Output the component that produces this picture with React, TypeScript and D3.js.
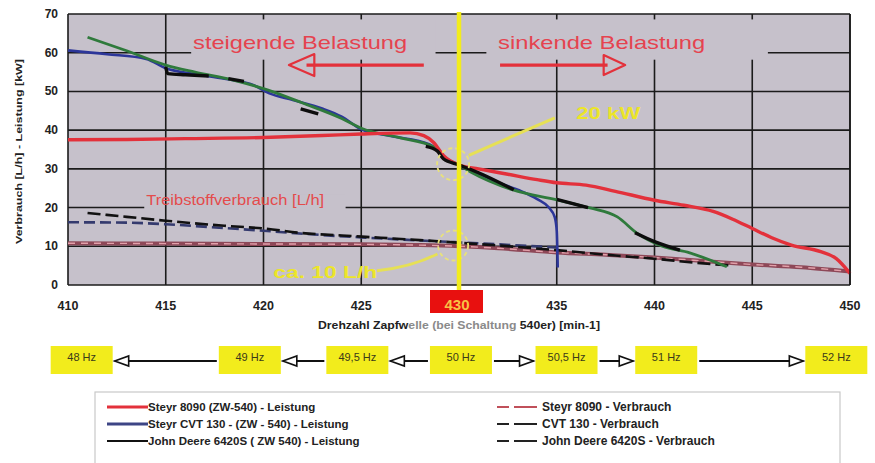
import React from "react";
import * as d3 from "d3";

type Pt = [number, number] | null;

const rpmTicks = [410, 415, 420, 425, 430, 435, 440, 445, 450];
const valueTicks = [0, 10, 20, 30, 40, 50, 60, 70];

// Leistung [kW]
const steyr8090Leistung: Pt[] = [
  [410, 37.5], [413, 37.6], [416, 37.8], [420, 38.1], [423, 38.6], [425, 39], [427.5, 39.3],
  [428.2, 38.6], [428.7, 36.8], [429.2, 33.5], [430, 31], [431, 30], [432.5, 28.6], [434, 27.2],
  [435, 26.4], [436.5, 25.8], [438, 24.2], [440, 21.9], [441.5, 20.6], [443, 19], [444, 17],
  [445, 14.6], [446, 12.2], [447, 10.3], [448.5, 8.6], [449.3, 6.8], [450, 3],
];
const cvt130Leistung: Pt[] = [
  [410, 60.6], [412, 59.6], [414, 58.4], [415, 56], [416.5, 54.5], [418, 53.3], [419.5, 51.6],
  [420.3, 49.5], [421.5, 47.8], [423, 45.6], [424, 43.5], [425, 40.2], [426.5, 38.5], [428.5, 36.3],
  [429.4, 32.5], [430, 31], [431, 28.8], [432, 26.5], [433, 24.6], [434, 22.2], [434.6, 20],
  [434.9, 17.5], [435, 14], [435.05, 4.5],
];
const jd6420Leistung: Pt[] = [
  [411, 64], [413, 60.5], [415, 56.8], [416.5, 55], [418.4, 53], [420.2, 50.4], [422, 47],
  [424, 43], [425, 40.5], [427, 38], [428.7, 35.7], [429.2, 33], [430, 31], [430.6, 29.2],
  [432.8, 24.5], [435, 22], [436.7, 19.9], [438.1, 17.6], [439.1, 13.4], [440.4, 10],
  [441.8, 8.3], [443.7, 4.7],
];
// black measured segments drawn over the John Deere curve
const jd6420Messung: Pt[] = [
  [415, 56.3], [415.1, 54.6], [416, 54.3], [417.2, 54], null,
  [418.2, 53.3], [419, 52.6], null,
  [421.9, 45.5], [422.8, 44.2], null,
  [428.3, 35.8], [428.9, 34.6], [429.2, 32.6], [430, 31], [431, 29], [432.8, 24.6], null,
  [435, 22.1], [436.6, 20], null,
  [439, 13.5], [440, 11.2], [441.3, 9],
];

// Verbrauch [L/h]
const steyr8090Verbrauch: Pt[] = [
  [410, 10.8], [415, 10.7], [420, 10.6], [425, 10.5], [428, 10.3], [430, 10], [432, 9.5],
  [435, 8.4], [437.5, 7.8], [440, 7.1], [442, 6.4], [445, 5.3], [447.5, 4.6], [450, 3.5],
];
const cvt130Verbrauch: Pt[] = [
  [410, 16.2], [413, 16.1], [415, 15.7], [418, 14.7], [420, 14], [423, 12.9], [425, 12.3],
  [428, 11.5], [430, 11], [432, 10.5], [435, 9.7],
];
const jd6420Verbrauch: Pt[] = [
  [411, 18.6], [413, 17.6], [415, 16.6], [418, 15.3], [420, 14.6], [422, 13.4], [424, 12.8],
  [426, 12.2], [428, 11.6], [430, 10.9], [432, 10.2], [435, 9], [438, 7.6], [440, 6.8],
  [442, 5.8], [444, 5],
];

const hzLabels = ["48 Hz", "49 Hz", "49,5 Hz", "50 Hz", "50,5 Hz", "51 Hz", "52 Hz"];
const hzRpm = [410.7, 419.3, 424.8, 430.1, 435.5, 440.6, 449.3];

const legendLeft = [
  "Steyr 8090 (ZW-540) - Leistung",
  "Steyr CVT 130 - (ZW - 540) - Leistung",
  "John Deere 6420S ( ZW 540) - Leistung",
];
const legendRight = [
  "Steyr 8090 - Verbrauch",
  "CVT 130 - Verbrauch",
  "John Deere 6420S - Verbrauch",
];

const W = 875;
const H = 463;
const plotBg = "#c6c1cb";
const font = "'Liberation Sans', Arial, sans-serif";
const red = "#e3313b";
const blue = "#2c3699";
const green = "#2f7a3c";
const yellow = "#f2ec1c";

const x = d3.scaleLinear().domain([410, 450]).range([68, 850]);
const y = d3.scaleLinear().domain([0, 70]).range([285, 14]);

const line = d3
  .line<Pt>()
  .defined((d) => d !== null)
  .x((d) => x((d as [number, number])[0]))
  .y((d) => y((d as [number, number])[1]))
  .curve(d3.curveMonotoneX);

const App: React.FC = () => {
  const [x0, x1] = x.range();
  const [y0, y1] = y.range();
  const boxW = 62;
  const boxH = 28;
  const boxY = 346;
  const arrowY = 361;

  const arrowHead = (tip: number, dir: number, key: string) => (
    <path
      key={key}
      d={`M${tip},${arrowY} L${tip + dir * 14},${arrowY - 5} L${tip + dir * 14},${arrowY + 5} Z`}
      fill="#fff"
      stroke="#111"
      strokeWidth={1.6}
    />
  );

  const hzArrows = hzLabels.slice(0, -1).map((_, i) => {
    const a = x(hzRpm[i]) + boxW / 2 + 2;
    const b = x(hzRpm[i + 1]) - boxW / 2 - 2;
    const leftSide = hzRpm[i + 1] <= 430.1;
    return (
      <g key={`arr${i}`}>
        <line x1={a} x2={b} y1={arrowY} y2={arrowY} stroke="#111" strokeWidth={2} />
        {leftSide ? arrowHead(a, 1, "h") : arrowHead(b, -1, "h")}
      </g>
    );
  });

  const aY = y(56.8);

  return (
    <div style={{ position: "absolute", left: 0, top: 0 }}>
      <style>{"body{margin:0}"}</style>
      <svg width={W} height={H} style={{ display: "block", fontFamily: font }}>
        <rect width={W} height={H} fill="#fff" />
        <rect x={x0} y={y1} width={x1 - x0} height={y0 - y1} fill={plotBg} />

        {/* horizontal grid */}
        {valueTicks.map((v) => (
          <line key={`h${v}`} x1={x0} x2={x1} y1={y(v)} y2={y(v)} stroke="#1b1b1b" strokeWidth={1.6} />
        ))}
        {/* label box hiding the 20 line */}
        <rect x={x(413.9)} y={y(23.5)} width={x(424.2) - x(413.9)} height={y(17.5) - y(23.5)} fill={plotBg} />
        {/* vertical grid */}
        {rpmTicks.map((t) => (
          <line key={`v${t}`} x1={x(t)} x2={x(t)} y1={y1} y2={y0} stroke="#1b1b1b" strokeWidth={1.6} />
        ))}
        {/* text boxes at top */}
        <rect x={x(416.3)} y={y(68.6)} width={x(428.8) - x(416.3)} height={y(58.2) - y(68.6)} fill={plotBg} />
        <rect x={x(431.4)} y={y(68.6)} width={x(445.8) - x(431.4)} height={y(58.2) - y(68.6)} fill={plotBg} />

        {/* Verbrauch */}
        <path d={line(steyr8090Verbrauch) ?? ""} fill="none" stroke="#8e4858" strokeWidth={4} />
        <path d={line(steyr8090Verbrauch) ?? ""} fill="none" stroke="#e2a0aa" strokeWidth={1.4} strokeDasharray="7 6" />
        <path d={line(cvt130Verbrauch) ?? ""} fill="none" stroke="#343a6e" strokeWidth={2.6} strokeDasharray="11 5" />
        <path d={line(jd6420Verbrauch) ?? ""} fill="none" stroke="#111" strokeWidth={2.6} strokeDasharray="13 5" />

        {/* Leistung */}
        <path d={line(cvt130Leistung) ?? ""} fill="none" stroke={blue} strokeWidth={2.6} />
        <path d={line(jd6420Leistung) ?? ""} fill="none" stroke={green} strokeWidth={2.8} />
        <path d={line(steyr8090Leistung) ?? ""} fill="none" stroke={red} strokeWidth={3.4} />
        <path d={line(jd6420Messung) ?? ""} fill="none" stroke="#0d0d0d" strokeWidth={3.4} />

        {/* plot frame */}
        <line x1={x1} x2={x1} y1={y1} y2={y0} stroke="#1b1b1b" strokeWidth={1.6} />

        {/* annotations */}
        <text x={x(416.4)} y={y(60.9)} fill="#e5434f" fontSize={19} textLength={214} lengthAdjust="spacingAndGlyphs">
          steigende Belastung
        </text>
        <line x1={x(422.2)} x2={x(428.2)} y1={aY} y2={aY} stroke={red} strokeWidth={3.2} />
        <path
          d={`M${x(421.3)},${aY} L${x(422.6)},${aY - 11} L${x(422.6)},${aY + 11} Z`}
          fill="none" stroke={red} strokeWidth={2.2} strokeLinejoin="round"
        />
        <text x={x(432.0)} y={y(60.9)} fill="#e5434f" fontSize={19} textLength={207} lengthAdjust="spacingAndGlyphs">
          sinkende Belastung
        </text>
        <line x1={x(432.1)} x2={x(437.6)} y1={aY} y2={aY} stroke={red} strokeWidth={3.2} />
        <path
          d={`M${x(438.5)},${aY} L${x(437.4)},${aY - 10} L${x(437.4)},${aY + 10} Z`}
          fill="none" stroke={red} strokeWidth={2.2} strokeLinejoin="round"
        />

        <text x={x(414)} y={y(20.6)} fill="#e44b4b" fontSize={14} textLength={178} lengthAdjust="spacingAndGlyphs">
          Treibstoffverbrauch [L/h]
        </text>

        <line x1={x(434.9)} x2={x(430.5)} y1={y(43.2)} y2={y(33.5)} stroke="#e6e055" strokeWidth={3} />
        <circle cx={x(429.7)} cy={y(31.2)} r={16} fill="none" stroke="#e8e27a" strokeWidth={1.8} strokeDasharray="4 3" />
        <text x={x(436)} y={y(42.9)} fill="#ece528" fontSize={16} fontWeight="bold" textLength={64} lengthAdjust="spacingAndGlyphs">
          20 kW
        </text>

        <text x={x(420.5)} y={y(1.9)} fill="#ece528" fontSize={17} fontWeight="bold" textLength={104} lengthAdjust="spacingAndGlyphs">
          ca. 10 L/h
        </text>
        <path
          d={`M${x(425.8)},${y(3.7)} Q${x(427.5)},${y(4.5)} ${x(428.9)},${y(8)}`}
          fill="none" stroke="#e6e055" strokeWidth={3}
        />
        <circle cx={x(429.7)} cy={y(10.2)} r={15} fill="none" stroke="#e8e27a" strokeWidth={1.8} strokeDasharray="4 3" />

        {/* 430 marker */}
        <line x1={x(430)} x2={x(430)} y1={12} y2={292} stroke={yellow} strokeWidth={4.5} />

        {/* y axis */}
        {valueTicks.map((v) => (
          <text key={`yt${v}`} x={58} y={y(v) + 4} textAnchor="end" fontSize={12} fontWeight="bold" fill="#222">
            {v}
          </text>
        ))}
        <text
          transform={`translate(22,${(y0 + y1) / 2 + 2}) rotate(-90)`}
          textAnchor="middle"
          fontSize={9.5}
          fontWeight="bold"
          fill="#222"
          textLength={185}
          lengthAdjust="spacingAndGlyphs"
        >
          Verbrauch [L/h] - Leistung [kW]
        </text>

        {/* x axis */}
        <rect x={x(430) - 29} y={290} width={53} height={23} fill="#e8100f" />
        {rpmTicks.map((t) => (
          <text
            key={`xt${t}`}
            x={x(t) + (t === 430 ? -2 : 0)}
            y={310}
            textAnchor="middle"
            fontSize={t === 430 ? 15 : 12.5}
            fontWeight="bold"
            fill={t === 430 ? "#f7c145" : "#222"}
          >
            {t}
          </text>
        ))}
        <text x={x(430)} y={329} textAnchor="middle" fontSize={10} fontWeight="bold" fill="#222" textLength={282} lengthAdjust="spacingAndGlyphs">
          Drehzahl Zapfw<tspan fill="#8a8a8a">elle (bei Schaltung</tspan> 540er) [min-1]
        </text>

        {/* frequency row */}
        {hzArrows}
        {hzLabels.map((l, i) => (
          <g key={l}>
            <rect x={x(hzRpm[i]) - boxW / 2} y={boxY} width={boxW} height={boxH} fill={yellow} />
            <text x={x(hzRpm[i])} y={boxY + 15} textAnchor="middle" fontSize={11} fill="#3a3a1a">
              {l}
            </text>
          </g>
        ))}

        {/* legend */}
        <rect x={95} y={392} width={745} height={90} fill="#fff" stroke="#c9c9c9" strokeWidth={1.2} />
        {legendLeft.map((l, i) => {
          const ly = 411 + i * 17;
          const stroke = [red, "#3d4585", "#111"][i];
          return (
            <g key={l}>
              <line x1={107} x2={148} y1={ly - 4} y2={ly - 4} stroke={stroke} strokeWidth={i === 2 ? 2 : 3} />
              <text x={148} y={ly} fontSize={11.5} fontWeight="bold" fill="#222">{l}</text>
            </g>
          );
        })}
        {legendRight.map((l, i) => {
          const ly = 411 + i * 17;
          const stroke = ["#c0505a", "#222", "#222"][i];
          return (
            <g key={l}>
              <line x1={497} x2={537} y1={ly - 4} y2={ly - 4} stroke={stroke} strokeWidth={2} strokeDasharray="12 5 23" />
              <text x={542} y={ly} fontSize={12} fontWeight="bold" fill="#222">{l}</text>
            </g>
          );
        })}
      </svg>
    </div>
  );
};

export default App;
